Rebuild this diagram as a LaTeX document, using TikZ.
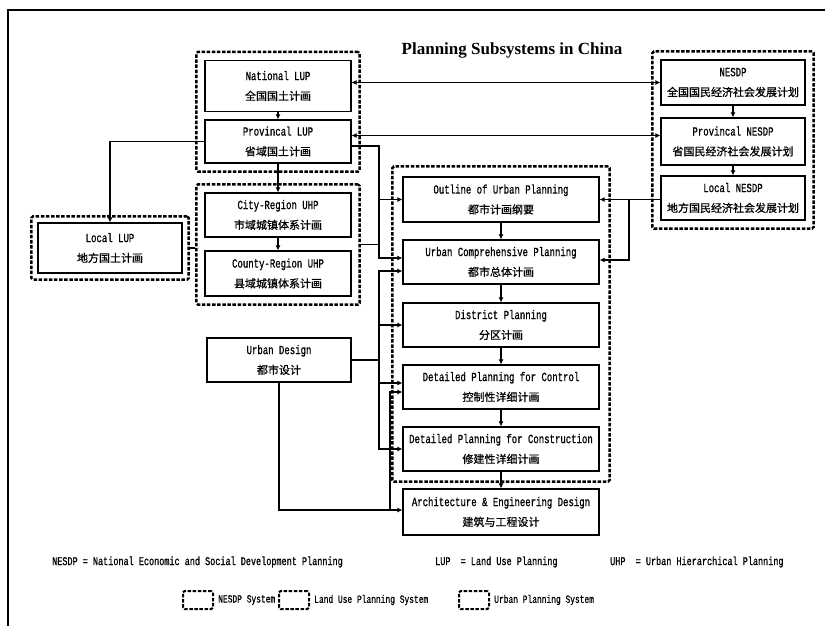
\documentclass[tikz,border=0pt]{standalone}
\usepackage{fontspec}
\setmainfont{Liberation Serif}
\newfontfamily\boxfont[FakeStretch=0.72,FakeBold=0.8]{Liberation Mono}
\newfontfamily\zhfont[FakeBold=0.8]{Noto Sans CJK SC}
\usetikzlibrary{arrows.meta,positioning,fit,calc}
\newcommand{\zh}[1]{{\zhfont\fontsize{11}{20}\selectfont #1}}
\tikzset{
  box/.style={draw, line width=1.2pt, minimum width=146pt, minimum height=45pt,
    inner sep=0pt, align=center, font=\boxfont\fontsize{12.5}{20}\selectfont},
  wide/.style={box, minimum width=196pt},
  grp/.style={draw, line width=2.4pt, dash pattern=on 3.5pt off 1.6pt,
    rounded corners=1.5pt, inner sep=8pt},
  link/.style={line width=1.1pt},
  keytext/.style={font=\boxfont\fontsize{11.8}{12}\selectfont, inner sep=0pt, anchor=west},
  keybox/.style={grp, inner sep=0pt, line width=2pt, minimum width=30pt, minimum height=18pt},
  >={Latex[length=5pt,width=5pt]}
}
\begin{document}
\begin{tikzpicture}[x=1pt,y=-1pt]
  \useasboundingbox (0,0) rectangle (825,626);
  \draw[line width=1.2pt] (8,626) -- (8,10) -- (825,10);
  \node[font=\bfseries\fontsize{17}{20}\selectfont] (title) at (512,50) {Planning Subsystems in China};
  % land use planning
  \node[box, minimum height=51pt] (natlup) at (278,86) {National LUP\\\zh{全国国土计画}};
  \node[box, minimum height=43pt] (provlup) at (278,141.5) {Provincal LUP\\\zh{省域国土计画}};
  \node[box, minimum height=44pt] (city) at (278,215) {City-Region UHP\\\zh{市域城镇体系计画}};
  \node[box] (county) at (278,273.5) {County-Region UHP\\\zh{县域城镇体系计画}};
  \node[box, minimum width=144pt, minimum height=50pt] (loclup) at (110,248) {Local LUP\\\zh{地方国土计画}};
  \node[box, minimum width=144pt, minimum height=44pt] (udesign) at (279,360) {Urban Design\\\zh{都市设计}};
  % NESDP
  \node[box, minimum width=144pt] (nesdp) at (733,82.5) {NESDP\\\zh{全国国民经济社会发展计划}};
  \node[box, minimum width=144pt, minimum height=47pt] (provnesdp) at (733,141.5) {Provincal NESDP\\\zh{省国民经济社会发展计划}};
  \node[box, minimum width=144pt, minimum height=44pt] (locnesdp) at (733,198) {Local NESDP\\\zh{地方国民经济社会发展计划}};
  % urban planning
  \node[wide] (outline) at (501,199.5) {Outline of Urban Planning\\\zh{都市计画纲要}};
  \node[wide, minimum height=44pt] (comp) at (501,262) {Urban Comprehensive Planning\\\zh{都市总体计画}};
  \node[wide, minimum height=44pt] (district) at (501,325) {District Planning\\\zh{分区计画}};
  \node[wide, minimum height=44pt] (dpcontrol) at (501,387) {Detailed Planning for Control\\\zh{控制性详细计画}};
  \node[wide, minimum height=44pt] (dpconstr) at (501,449) {Detailed Planning for Construction\\\zh{修建性详细计画}};
  \node[wide, minimum height=46pt] (arch) at (501,512) {Architecture \& Engineering Design\\\zh{建筑与工程设计}};
  % systems
  \node[grp, fit=(natlup)(provlup)] (glup) {};
  \node[grp, fit=(city)(county)] (gcity) {};
  \node[grp, inner sep=6pt, fit=(loclup)] (gloc) {};
  \node[grp, fit=(nesdp)(locnesdp)] (gnesdp) {};
  \node[grp, inner sep=10pt, fit=(outline)(dpconstr)] (gurban) {};
  \coordinate (busa) at (379,0);
  \coordinate (busb) at (390,0);
  \coordinate (busc) at (629,0);
  \draw[link,<->] (natlup.east |- nesdp.west) -- (nesdp.west);
  \draw[link,<->] ($(provlup.east)+(0,-6)$) -- ($(provnesdp.west)+(0,-6)$);
  \draw[link,->] (natlup) -- (provlup);
  \draw[link,->] (provlup) -- (city);
  \draw[link,->] (city) -- (county);
  \draw[link,->] (nesdp) -- (provnesdp);
  \draw[link,->] (provnesdp) -- (locnesdp);
  \draw[link,->] (outline) -- (comp);
  \draw[link,->] (comp) -- (district);
  \draw[link,->] (district) -- (dpcontrol);
  \draw[link,->] (dpcontrol) -- (dpconstr);
  \draw[link,->] (dpconstr) -- (arch);
  \draw[link,->] (provlup.west) -| (loclup.north);
  \draw[link] (gloc.east) -- (gloc.east -| gcity.west);
  \draw[link,->] ($(provlup.east)+(0,4.5)$) -| ($(busa |- comp.west)+(0,-4)$) -- ($(comp.west)+(0,-4)$);
  \draw[link,->] (busa |- outline.west) -- (outline.west);
  \draw[link] (gcity.east) -- (busa |- gcity.east);
  \draw[link,<->] ($(comp.west)+(0,9)$) -| (busa |- dpconstr.west) -- (dpconstr.west);
  \draw[link,->] (busa |- district.west) -- (district.west);
  \draw[link] (udesign.east) -- (busa |- udesign.east);
  \draw[link,->] ($(busa |- dpcontrol.west)+(0,-4)$) -- ($(dpcontrol.west)+(0,-4)$);
  \draw[link,<->] ($(dpcontrol.west)+(0,5)$) -| ($(busb |- arch.west)+(0,-2)$) -- ($(arch.west)+(0,-2)$);
  \draw[link] (udesign.south) |- ($(busb |- arch.west)+(0,-2)$);
  \draw[link,<-] (outline.east) -- (outline.east -| locnesdp.west);
  \draw[link,->] (busc |- outline.east) |- ($(comp.east)+(0,-2)$);
  % key
  \node[keytext] (knesdp) at (52,562) {NESDP = National Economic and Social Development Planning};
  \node[keytext] (klup) at (435,562) {LUP\ \ = Land Use Planning};
  \node[keytext] (kuhp) at (610,562) {UHP\ \ = Urban Hierarchical Planning};
  \node[keybox] (snesdp) at (198,600) {};
  \node[keytext, font=\boxfont\fontsize{11}{12}\selectfont, right=4pt of snesdp] (tnesdp) {NESDP System};
  \node[keybox] (slup) at (294,600) {};
  \node[keytext, font=\boxfont\fontsize{11}{12}\selectfont, right=4pt of slup] (tlup) {Land Use Planning System};
  \node[keybox] (surban) at (474,600) {};
  \node[keytext, font=\boxfont\fontsize{11}{12}\selectfont, right=4pt of surban] (turban) {Urban Planning System};
\end{tikzpicture}
\end{document}
